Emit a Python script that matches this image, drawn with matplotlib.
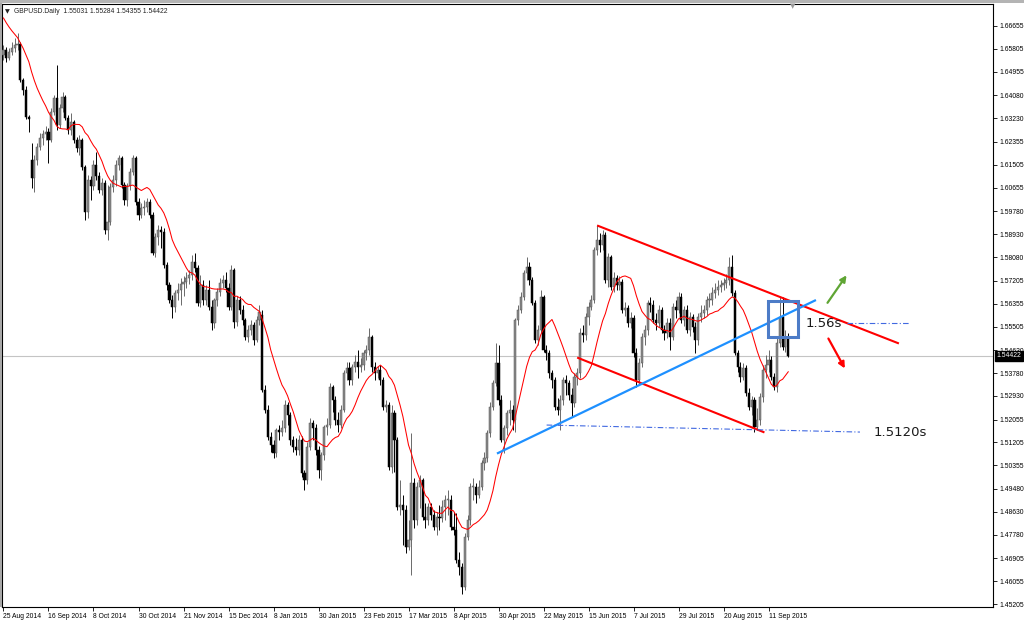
import numpy as np
import matplotlib
matplotlib.use("Agg")
import matplotlib.pyplot as plt
from matplotlib import patches, transforms

plt.rcParams["font.family"] = ["Liberation Sans", "DejaVu Sans"]

# daily GBPUSD bars, 25 Aug 2014 .. 22 Sep 2015
closes = [
    1.6577, 1.6547, 1.6569, 1.6584, 1.6595, 1.6599, 1.6465, 1.6428, 1.6328, 1.6320,
    1.6102, 1.6168, 1.6217, 1.6250, 1.6265, 1.6272, 1.6243, 1.6347, 1.6398, 1.6298,
    1.6361, 1.6402, 1.6324, 1.6280, 1.6309, 1.6243, 1.6213, 1.6243, 1.6142, 1.5975,
    1.6094, 1.6072, 1.6150, 1.6109, 1.6057, 1.6083, 1.5909, 1.5938, 1.6068, 1.6094,
    1.6150, 1.6176, 1.6076, 1.6020, 1.6072, 1.6124, 1.6176, 1.6013, 1.5964, 1.5990,
    1.5994, 1.6013, 1.5964, 1.5823, 1.5883, 1.5909, 1.5901, 1.5779, 1.5705, 1.5649,
    1.5623, 1.5675, 1.5686, 1.5708, 1.5716, 1.5731, 1.5742, 1.5790, 1.5768, 1.5638,
    1.5705, 1.5649, 1.5686, 1.5623, 1.5564, 1.5649, 1.5679, 1.5712, 1.5723, 1.5694,
    1.5623, 1.5760, 1.5567, 1.5649, 1.5612, 1.5575, 1.5512, 1.5538, 1.5556, 1.5501,
    1.5575, 1.5604, 1.5315, 1.5241, 1.5141, 1.5111, 1.5081, 1.5167, 1.5159, 1.5174,
    1.5260, 1.5222, 1.5130, 1.5104, 1.5093, 1.5130, 1.5007, 1.4981, 1.5104, 1.5193,
    1.5174, 1.5093, 1.5018, 1.5074, 1.5178, 1.5185, 1.5326, 1.5278, 1.5204, 1.5185,
    1.5241, 1.5378, 1.5397, 1.5352, 1.5400, 1.5419, 1.5400, 1.5408, 1.5453, 1.5464,
    1.5512, 1.5400, 1.5378, 1.5389, 1.5352, 1.5252, 1.5260, 1.5029, 1.5230, 1.5130,
    1.4881, 1.4889, 1.4870, 1.4733, 1.4759, 1.4970, 1.4833, 1.4955, 1.4981, 1.4844,
    1.4833, 1.4881, 1.4851, 1.4807, 1.4844, 1.4840, 1.4881, 1.4907, 1.4907, 1.4807,
    1.4796, 1.4684, 1.4658, 1.4584, 1.4770, 1.4833, 1.4955, 1.4955, 1.4926, 1.4955,
    1.5044, 1.5063, 1.5155, 1.5252, 1.5341, 1.5415, 1.5278, 1.5130, 1.5174, 1.5230,
    1.5241, 1.5204, 1.5575, 1.5612, 1.5660, 1.5749, 1.5771, 1.5723, 1.5638, 1.5501,
    1.5538, 1.5660, 1.5464, 1.5453, 1.5378, 1.5352, 1.5252, 1.5241, 1.5278, 1.5352,
    1.5341, 1.5297, 1.5267, 1.5363, 1.5378, 1.5527, 1.5519, 1.5586, 1.5623, 1.5649,
    1.5835, 1.5872, 1.5853, 1.5890, 1.5723, 1.5809, 1.5697, 1.5731, 1.5705, 1.5716,
    1.5612, 1.5619, 1.5564, 1.5582, 1.5453, 1.5352, 1.5415, 1.5512, 1.5538, 1.5638,
    1.5630, 1.5575, 1.5564, 1.5612, 1.5538, 1.5527, 1.5564, 1.5512, 1.5623, 1.5612,
    1.5660, 1.5575, 1.5612, 1.5538, 1.5586, 1.5549, 1.5501, 1.5586, 1.5601, 1.5612,
    1.5649, 1.5649, 1.5675, 1.5686, 1.5697, 1.5705, 1.5712, 1.5723, 1.5771, 1.5675,
    1.5453, 1.5400, 1.5363, 1.5397, 1.5304, 1.5252, 1.5278, 1.5178, 1.5204, 1.5289,
    1.5389, 1.5408, 1.5426, 1.5363, 1.5326, 1.5489, 1.5586, 1.5475, 1.5503, 1.5442,
]
highs = [
    1.6595, 1.6588, 1.6584, 1.6606, 1.6621, 1.6640, 1.6606, 1.6473, 1.6443, 1.6335,
    1.6231, 1.6187, 1.6231, 1.6269, 1.6280, 1.6295, 1.6287, 1.6361, 1.6410, 1.6521,
    1.6376, 1.6421, 1.6410, 1.6335, 1.6343, 1.6317, 1.6254, 1.6261, 1.6250, 1.6150,
    1.6113, 1.6109, 1.6168, 1.6198, 1.6124, 1.6102, 1.6094, 1.6076, 1.6083, 1.6113,
    1.6168, 1.6187, 1.6183, 1.6087, 1.6083, 1.6139, 1.6187, 1.6183, 1.6027, 1.6009,
    1.6020, 1.6027, 1.6024, 1.5975, 1.5898, 1.5927, 1.5924, 1.5916, 1.5790, 1.5716,
    1.5668, 1.5686, 1.5712, 1.5731, 1.5738, 1.5753, 1.5760, 1.5816, 1.5823, 1.5779,
    1.5742, 1.5723, 1.5705, 1.5723, 1.5649, 1.5656, 1.5694, 1.5731, 1.5742, 1.5753,
    1.5712, 1.5779, 1.5768, 1.5664, 1.5664, 1.5630, 1.5582, 1.5556, 1.5575, 1.5567,
    1.5590, 1.5630, 1.5612, 1.5334, 1.5260, 1.5159, 1.5130, 1.5174, 1.5185, 1.5204,
    1.5278, 1.5271, 1.5233, 1.5144, 1.5137, 1.5148, 1.5144, 1.5018, 1.5122, 1.5211,
    1.5204, 1.5189, 1.5107, 1.5085, 1.5185, 1.5211, 1.5341, 1.5334, 1.5293, 1.5233,
    1.5260, 1.5389, 1.5419, 1.5419, 1.5412, 1.5445, 1.5464, 1.5434, 1.5464, 1.5482,
    1.5545, 1.5519, 1.5419, 1.5404, 1.5408, 1.5363, 1.5278, 1.5271, 1.5260, 1.5241,
    1.5141, 1.4981, 1.4926, 1.4889, 1.4833, 1.5155, 1.4989, 1.4974, 1.5000, 1.4989,
    1.4896, 1.4896, 1.4896, 1.4870, 1.4862, 1.4889, 1.4907, 1.4926, 1.4944, 1.4926,
    1.4862, 1.4859, 1.4714, 1.4673, 1.4785, 1.4851, 1.4970, 1.4989, 1.4970, 1.4981,
    1.5055, 1.5085, 1.5167, 1.5271, 1.5352, 1.5489, 1.5482, 1.5297, 1.5185, 1.5241,
    1.5278, 1.5260, 1.5582, 1.5630, 1.5679, 1.5760, 1.5809, 1.5790, 1.5734, 1.5649,
    1.5556, 1.5686, 1.5668, 1.5482, 1.5464, 1.5389, 1.5363, 1.5286, 1.5297, 1.5363,
    1.5371, 1.5352, 1.5323, 1.5378, 1.5397, 1.5545, 1.5556, 1.5601, 1.5642, 1.5668,
    1.5846, 1.5927, 1.5898, 1.5909, 1.5901, 1.5823, 1.5816, 1.5753, 1.5742, 1.5738,
    1.5727, 1.5642, 1.5630, 1.5604, 1.5593, 1.5471, 1.5434, 1.5527, 1.5556, 1.5649,
    1.5660, 1.5649, 1.5601, 1.5630, 1.5623, 1.5556, 1.5582, 1.5582, 1.5638, 1.5649,
    1.5679, 1.5675, 1.5627, 1.5630, 1.5604, 1.5597, 1.5567, 1.5601, 1.5630, 1.5630,
    1.5664, 1.5675, 1.5697, 1.5712, 1.5723, 1.5723, 1.5731, 1.5745, 1.5809, 1.5816,
    1.5686, 1.5464, 1.5419, 1.5415, 1.5408, 1.5323, 1.5293, 1.5289, 1.5248, 1.5304,
    1.5408, 1.5445, 1.5464, 1.5441, 1.5378, 1.5508, 1.5660, 1.5660, 1.5538, 1.5528,
]
lows = [
    1.6539, 1.6532, 1.6539, 1.6558, 1.6569, 1.6577, 1.6458, 1.6410, 1.6320, 1.6272,
    1.6065, 1.6050, 1.6150, 1.6206, 1.6224, 1.6243, 1.6157, 1.6235, 1.6335, 1.6280,
    1.6287, 1.6347, 1.6317, 1.6265, 1.6261, 1.6231, 1.6198, 1.6187, 1.6131, 1.5946,
    1.5953, 1.6020, 1.6057, 1.6094, 1.6046, 1.6039, 1.5894, 1.5872, 1.5927, 1.6050,
    1.6072, 1.6131, 1.6065, 1.6002, 1.5998, 1.6057, 1.6113, 1.6002, 1.5946, 1.5953,
    1.5964, 1.5975, 1.5953, 1.5816, 1.5809, 1.5853, 1.5842, 1.5768, 1.5686, 1.5638,
    1.5582, 1.5604, 1.5649, 1.5630, 1.5664, 1.5694, 1.5708, 1.5723, 1.5753, 1.5627,
    1.5623, 1.5630, 1.5630, 1.5612, 1.5538, 1.5545, 1.5627, 1.5664, 1.5694, 1.5679,
    1.5612, 1.5612, 1.5545, 1.5553, 1.5597, 1.5556, 1.5501, 1.5493, 1.5519, 1.5482,
    1.5493, 1.5556, 1.5308, 1.5230, 1.5130, 1.5085, 1.5063, 1.5067, 1.5130, 1.5144,
    1.5159, 1.5185, 1.5111, 1.5085, 1.5074, 1.5074, 1.4992, 1.4944, 1.4966, 1.5093,
    1.5130, 1.5074, 1.4989, 1.4981, 1.5055, 1.5148, 1.5174, 1.5233, 1.5185, 1.5159,
    1.5174, 1.5233, 1.5352, 1.5334, 1.5334, 1.5382, 1.5360, 1.5382, 1.5389, 1.5426,
    1.5445, 1.5382, 1.5352, 1.5360, 1.5334, 1.5241, 1.5233, 1.5018, 1.5007, 1.5011,
    1.4870, 1.4851, 1.4740, 1.4710, 1.4722, 1.4629, 1.4803, 1.4814, 1.4877, 1.4833,
    1.4803, 1.4814, 1.4833, 1.4796, 1.4777, 1.4796, 1.4825, 1.4833, 1.4851, 1.4796,
    1.4777, 1.4673, 1.4629, 1.4558, 1.4573, 1.4759, 1.4814, 1.4907, 1.4896, 1.4914,
    1.4944, 1.5018, 1.5048, 1.5141, 1.5241, 1.5330, 1.5260, 1.5122, 1.5081, 1.5148,
    1.5185, 1.5167, 1.5159, 1.5556, 1.5601, 1.5649, 1.5723, 1.5705, 1.5630, 1.5489,
    1.5482, 1.5527, 1.5456, 1.5426, 1.5360, 1.5323, 1.5241, 1.5222, 1.5167, 1.5260,
    1.5297, 1.5278, 1.5215, 1.5252, 1.5334, 1.5360, 1.5493, 1.5501, 1.5556, 1.5612,
    1.5638, 1.5816, 1.5827, 1.5835, 1.5712, 1.5697, 1.5686, 1.5679, 1.5686, 1.5686,
    1.5601, 1.5590, 1.5549, 1.5545, 1.5437, 1.5326, 1.5334, 1.5400, 1.5482, 1.5519,
    1.5604, 1.5564, 1.5538, 1.5549, 1.5527, 1.5501, 1.5508, 1.5464, 1.5501, 1.5582,
    1.5601, 1.5564, 1.5553, 1.5527, 1.5515, 1.5530, 1.5453, 1.5482, 1.5567, 1.5582,
    1.5593, 1.5623, 1.5630, 1.5656, 1.5668, 1.5679, 1.5686, 1.5694, 1.5705, 1.5664,
    1.5445, 1.5382, 1.5345, 1.5352, 1.5293, 1.5241, 1.5222, 1.5159, 1.5167, 1.5185,
    1.5271, 1.5360, 1.5382, 1.5352, 1.5315, 1.5308, 1.5475, 1.5464, 1.5456, 1.5436,
]
first_open = 1.6558
gap_opens = {10: 1.6168, 92: 1.5593}   # weekend gaps
# closes of the 13 sessions before the window, only used to seed the average
pre_closes = [1.6800, 1.6790, 1.6780, 1.6775, 1.6770, 1.6747, 1.6700,
              1.6680, 1.6660, 1.6640, 1.6625, 1.6610, 1.6577]
ma_period = 14
last_price = 1.54422
header = "GBPUSD.Daily  1.55031 1.55284 1.54355 1.54422"

price_ticks = [1.66655, 1.65805, 1.64955, 1.64080, 1.63230, 1.62355, 1.61505,
               1.60655, 1.59780, 1.58930, 1.58080, 1.57205, 1.56355, 1.55505,
               1.54630, 1.53780, 1.52930, 1.52055, 1.51205, 1.50355, 1.49480,
               1.48630, 1.47780, 1.46905, 1.46055, 1.45205]
date_labels = ["25 Aug 2014", "16 Sep 2014", "8 Oct 2014", "30 Oct 2014",
               "21 Nov 2014", "15 Dec 2014", "8 Jan 2015", "30 Jan 2015",
               "23 Feb 2015", "17 Mar 2015", "8 Apr 2015", "30 Apr 2015",
               "22 May 2015", "15 Jun 2015", "7 Jul 2015", "29 Jul 2015",
               "20 Aug 2015", "11 Sep 2015"]
bars_per_label = 16

# hand drawn objects (bar index, price)
channel_top = ([211.4, 318.0], [1.5924, 1.5489])
channel_bottom = ([204.3, 270.2], [1.5434, 1.5159])
trendline = ([175.8, 288.5], [1.5081, 1.5647])
level_low = ([193.1, 304.5], [1.5185, 1.5159])
level_high = ([299.9, 322.1], [1.5565, 1.5565])
box_bars = (271.7, 282.6)
box_prices = (1.5512, 1.5645)
arrow_up = ((292.4, 1.5630), (300.3, 1.5749))
arrow_down = ((292.8, 1.5515), (299.6, 1.5386))
label_high = (285.0, 1.5560, "1.56s")
label_low = (309.5, 1.5159, "1.5120s")

c = np.array(closes)
o = np.r_[first_open, c[:-1]]
for i, v in gap_opens.items():
    o[i] = v
h = np.maximum.reduce([np.array(highs), o, c])
l = np.minimum.reduce([np.array(lows), o, c])
x = np.arange(len(c))
up = c >= o

fig = plt.figure(figsize=(10.24, 6.23), dpi=100)
fig.patch.set_facecolor("white")
ax = fig.add_axes([2 / 1024, 16 / 623, 991 / 1024, 603 / 623])
ax.set_facecolor("white")

ax.axhline(last_price, color="#c4c4c4", lw=0.8, zorder=1)

for mask, face, edge, wick in [(up, "#8a8a8a", "#555555", "#6a6a6a"),
                               (~up, "black", "black", "black")]:
    ax.vlines(x[mask], l[mask], h[mask], color=wick, lw=0.7, zorder=2)
    ax.bar(x[mask], np.maximum(np.abs(c - o)[mask], 0.00025),
           bottom=np.minimum(o, c)[mask], width=0.76,
           color=face, edgecolor=edge, linewidth=0.35, zorder=3)

src = np.r_[pre_closes, c]
ma = np.convolve(src, np.ones(ma_period) / ma_period, mode="valid")
ax.plot(x, ma, color="#ff0000", lw=0.75, zorder=4)

# analysis objects
ax.plot(*channel_top, color="#ff0000", lw=1.5, zorder=5)
ax.plot(*channel_bottom, color="#ff0000", lw=1.5, zorder=5)
ax.plot(*trendline, color="#1e90ff", lw=1.6, zorder=5)
for lv in (level_low, level_high):
    ax.plot(*lv, color="#4169e1", lw=0.8, dashes=(5, 2, 1, 2), zorder=5)
ax.add_patch(patches.Rectangle((box_bars[0], box_prices[0]),
                               box_bars[1] - box_bars[0], box_prices[1] - box_prices[0],
                               fill=False, edgecolor="#4d7cc7", lw=2.2, zorder=6))
ax.annotate("", xy=arrow_up[1], xytext=arrow_up[0],
            arrowprops=dict(arrowstyle="-|>", color="#5fa534", lw=1.6, mutation_scale=9))
ax.annotate("", xy=arrow_down[1], xytext=arrow_down[0],
            arrowprops=dict(arrowstyle="-|>", color="#ff0000", lw=1.6, mutation_scale=9))
for bx, py, txt in (label_high, label_low):
    ax.text(bx, py, txt, family="DejaVu Sans", fontsize=9.5, color="#1a1a1a",
            ha="left", va="center", zorder=7)

ax.set_xlim(-0.53, 351.8)
ax.set_ylim(1.4510, 1.6747)

ax.yaxis.tick_right()
ax.set_yticks(price_ticks)
ax.set_yticklabels([f"{v:.5f}" for v in price_ticks])
ax.set_xticks(np.arange(len(date_labels)) * bars_per_label)
ax.set_xticklabels(date_labels, ha="left")
ax.tick_params(axis="y", length=3, width=0.6, labelsize=4.9, pad=1.5, colors="black")
ax.tick_params(axis="x", length=3, width=0.6, labelsize=4.9, pad=1, colors="black")
for sp in ax.spines.values():
    sp.set_linewidth(0.8)
    sp.set_color("black")

# last price box on the scale
trans = transforms.blended_transform_factory(ax.transAxes, ax.transData)
ax.text(1.0035, last_price, f"{last_price:.5f}", transform=trans, ha="left", va="center",
        fontsize=4.9, color="white", zorder=10, clip_on=False,
        bbox=dict(boxstyle="square,pad=0.2", fc="black", ec="black"))

ax.text(0.003, 0.992, "\u25bc", transform=ax.transAxes, family="DejaVu Sans",
        fontsize=4.5, color="#222222", ha="left", va="top")
ax.text(0.012, 0.993, header, transform=ax.transAxes, fontsize=4.9,
        color="#222222", ha="left", va="top")
fig.text(793 / 1024, 1 - 6 / 623, "\u25bc", family="DejaVu Sans", fontsize=5,
         color="#9a9a9a", ha="center", va="center")

fig.add_artist(patches.Rectangle((0, 1 - 3 / 623), 1, 3 / 623, transform=fig.transFigure,
                                 color="#b4b4b4", lw=0))
fig.add_artist(patches.Rectangle((0, 16 / 623), 2 / 1024, 1 - 19 / 623,
                                 transform=fig.transFigure, color="#a8a8a8", lw=0))

fig.savefig("out.png", dpi=100, facecolor=fig.get_facecolor())
